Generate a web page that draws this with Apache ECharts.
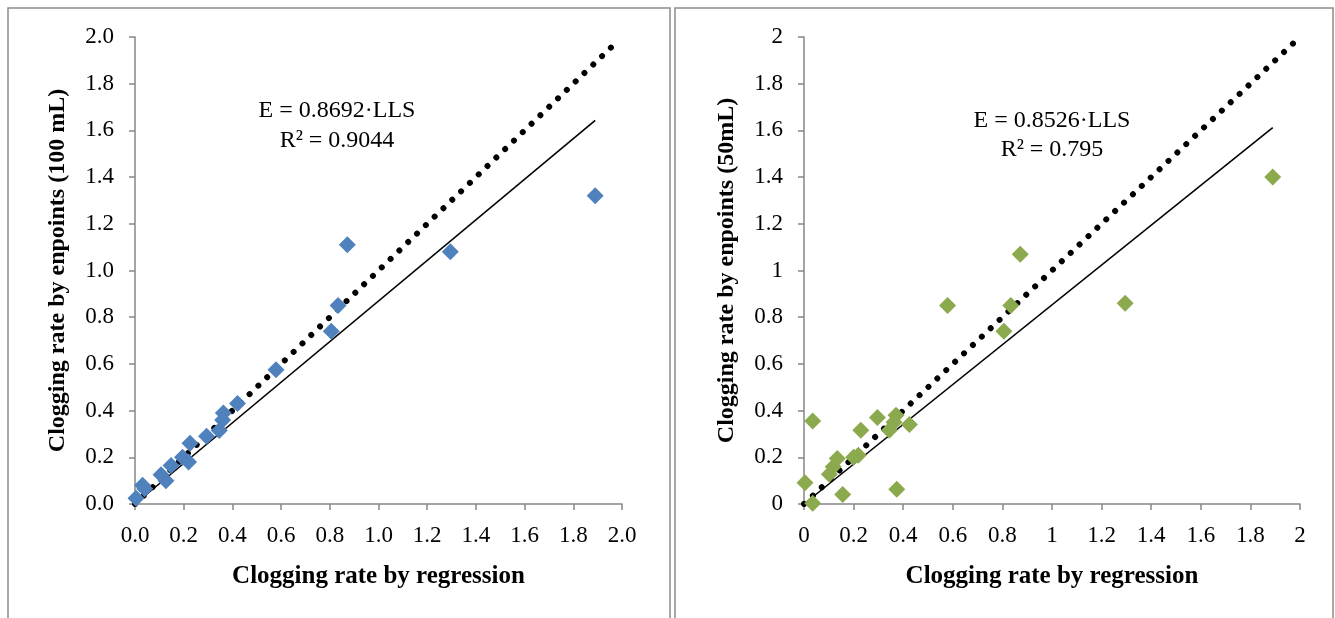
<!DOCTYPE html>
<html>
<head>
<meta charset="utf-8">
<script src="https://cdn.jsdelivr.net/npm/echarts@6/dist/echarts.min.js"></script>
<style>
  html, body { margin: 0; padding: 0; background: #fff; }
  #chart { width: 1335px; height: 618px; }
</style>
</head>
<body>
<div id="chart"></div>
<script>
// left panel (100 mL)
var leftX = [1.89, 1.295, 0.872, 0.834, 0.806, 0.579, 0.421, 0.363, 0.36, 0.346, 0.294, 0.226, 0.22, 0.195, 0.148, 0.127, 0.107, 0.04, 0.031, 0.004];
var leftY = [1.32, 1.08, 1.11, 0.85, 0.74, 0.575, 0.43, 0.39, 0.36, 0.315, 0.29, 0.26, 0.18, 0.20, 0.165, 0.10, 0.125, 0.065, 0.08, 0.025];
var leftSlope = 0.8692;
var leftLabel = ['E = 0.8692·LLS', 'R² = 0.9044'];

// right panel (50 mL)
var rightX = [1.89, 1.295, 0.872, 0.834, 0.806, 0.579, 0.425, 0.374, 0.371, 0.363, 0.344, 0.296, 0.229, 0.219, 0.20, 0.156, 0.134, 0.118, 0.102, 0.035, 0.035, 0.004];
var rightY = [1.40, 0.86, 1.07, 0.85, 0.74, 0.85, 0.34, 0.063, 0.38, 0.35, 0.316, 0.37, 0.316, 0.209, 0.20, 0.041, 0.195, 0.159, 0.127, 0.355, 0.003, 0.091];
var rightSlope = 0.8526;
var rightLabel = ['E = 0.8526·LLS', 'R² = 0.795'];

// shared
var trendRange = [0, 1.89];   // fitted line drawn over the x range of the data
var identityRange = [0, 1.99]; // 1:1 reference line
var axisMin = 0, axisMax = 2, axisStep = 0.2;

var FONT = '"Liberation Serif", "Times New Roman", serif';
var axisGray = '#868686';

function pairs(xs, ys) {
    return xs.map(function (e, i) { return [e, ys[i]]; });
}

function makeX(grid, fmt) {
    return {
        type: 'value', gridIndex: grid, min: axisMin, max: axisMax, interval: axisStep,
        name: 'Clogging rate by regression', nameLocation: 'middle', nameGap: 60,
        nameTextStyle: { fontFamily: FONT, fontWeight: 'bold', fontSize: 25, color: '#000' },
        axisLine: { lineStyle: { color: axisGray, width: 1.5 } },
        axisTick: { show: true, length: 6, lineStyle: { color: axisGray, width: 1.5 } },
        axisLabel: { fontFamily: FONT, fontSize: 23, color: '#000', margin: 20, formatter: fmt },
        splitLine: { show: false }
    };
}

function makeY(grid, name, fmt) {
    return {
        type: 'value', gridIndex: grid, min: axisMin, max: axisMax, interval: axisStep,
        name: name, nameLocation: 'middle', nameGap: 65, nameRotate: 90,
        nameTextStyle: { fontFamily: FONT, fontWeight: 'bold', fontSize: 24, color: '#000' },
        axisLine: { show: true, lineStyle: { color: axisGray, width: 1.5 } },
        axisTick: { show: true, length: 6, lineStyle: { color: axisGray, width: 1.5 } },
        axisLabel: { fontFamily: FONT, fontSize: 23, color: '#000', margin: 21, formatter: fmt },
        splitLine: { show: false }
    };
}

function fixed1(v) { return v.toFixed(1); }
function plain(v) { return String(Math.round(v * 10) / 10); }

function panelSeries(idx, xs, ys, slope, color) {
    return [
        {
            type: 'line', xAxisIndex: idx, yAxisIndex: idx, symbol: 'none', silent: true,
            data: identityRange.map(function (v) { return [v, v]; }),
            lineStyle: { color: '#000', width: 6, type: [0.01, 12.2], cap: 'round' },
            z: 2
        },
        {
            type: 'line', xAxisIndex: idx, yAxisIndex: idx, symbol: 'none', silent: true,
            data: trendRange.map(function (v) { return [v, v * slope]; }),
            lineStyle: { color: '#000', width: 1.6 },
            z: 3
        },
        {
            type: 'scatter', xAxisIndex: idx, yAxisIndex: idx,
            symbol: 'diamond', symbolSize: 17,
            itemStyle: { color: color, opacity: 1 },
            data: pairs(xs, ys),
            z: 4
        }
    ];
}

function note(x, y, text) {
    return { type: 'text', style: { x: x, y: y, text: text, font: '24px ' + FONT,
        fill: '#000', textAlign: 'center', textVerticalAlign: 'middle' } };
}

function drawChart() {
    var myChart = echarts.init(document.getElementById('chart'));

    var option = {
        backgroundColor: '#fff',
        animation: false,
        grid: [
            { left: 135, top: 37, width: 487, height: 467 },
            { left: 804, top: 37, width: 496, height: 467 }
        ],
        xAxis: [makeX(0, fixed1), makeX(1, plain)],
        yAxis: [
            makeY(0, 'Clogging rate by enpoints (100 mL)', fixed1),
            makeY(1, 'Clogging rate by enpoints (50mL)', plain)
        ],
        graphic: [
            { type: 'rect', shape: { x: 8, y: 8, width: 662, height: 700 },
              style: { fill: null, stroke: '#8c8c8c', lineWidth: 1.5 } },
            { type: 'rect', shape: { x: 675, y: 8, width: 658, height: 700 },
              style: { fill: null, stroke: '#8c8c8c', lineWidth: 1.5 } },
            note(337, 111, leftLabel[0]),
            note(337, 141, leftLabel[1]),
            note(1052, 121, rightLabel[0]),
            note(1052, 150, rightLabel[1])
        ],
        series: panelSeries(0, leftX, leftY, leftSlope, '#4F81BD')
            .concat(panelSeries(1, rightX, rightY, rightSlope, '#8BA94D'))
    };

    myChart.setOption(option);
}

drawChart();
</script>
</body>
</html>
